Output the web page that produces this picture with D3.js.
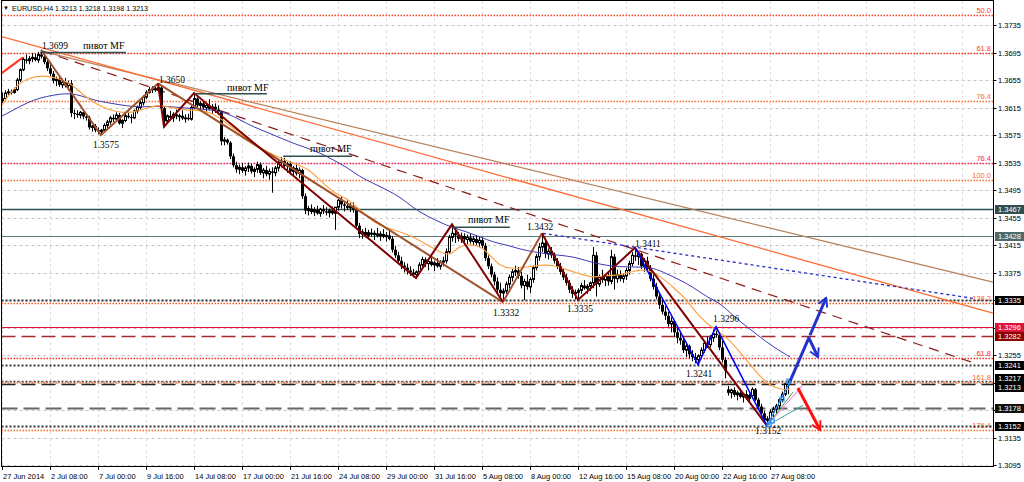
<!DOCTYPE html>
<html><head><meta charset="utf-8">
<script src="https://cdn.jsdelivr.net/npm/d3@7"></script>
<style>body{margin:0;background:#fff}svg{display:block}</style>
</head><body><svg id="c" width="1024" height="482"></svg>
<script>
// ---------------- DATA ----------------
const titleText = "EURUSD,H4  1.3213 1.3218 1.3198 1.3213";
const priceTicks = [1.3735,1.3695,1.3655,1.3615,1.3575,1.3535,1.3495,1.3455,1.3415,1.3375,1.3335,1.3295,1.3255,1.3215,1.3175,1.3135,1.3095];
const timeLabels = ["27 Jun 2014","2 Jul 08:00","7 Jul 00:00","9 Jul 16:00","14 Jul 08:00","17 Jul 00:00","21 Jul 16:00","24 Jul 08:00","29 Jul 00:00","31 Jul 16:00","5 Aug 08:00","8 Aug 00:00","12 Aug 16:00","15 Aug 08:00","20 Aug 00:00","22 Aug 16:00","27 Aug 08:00"];
const timeLabelBars = [0,16,32,48,64,80,96,112,128,144,160,176,192,208,224,240,256];
const gridBars = [0,16,32,48,64,80,96,112,128,144,160,176,192,208,224,240,256,272,288,304,320];
// H4 bars: [high, low, close] in pips above 1.3000
const firstOpen = 625;
const gapOpens = [[242,205]];
const bars = [
[637,622,628],[640,626,636],[642,633,638],[641,634,637],[644,635,641],[658,639,655],[672,652,670],[688,668,685],[692,679,683],[690,678,686],
[694,681,688],[693,682,684],[696,680,692],[699,686,689],[692,678,681],[686,668,672],[678,660,664],[668,650,654],[660,646,656],[659,645,648],
[657,643,652],[658,644,647],[654,640,650],[655,601,607],[612,598,606],[611,600,604],[610,599,608],[609,598,602],[606,596,600],[603,583,586],
[590,580,588],[591,579,582],[586,576,580],[584,575,582],[592,580,589],[597,585,594],[603,590,600],[605,594,598],[608,596,604],[607,590,592],
[598,585,596],[606,594,603],[609,599,601],[605,592,600],[612,598,610],[618,606,615],[625,612,622],[633,618,630],[640,627,637],[645,635,641],
[646,636,643],[647,638,640],[650,637,644],[646,610,614],[616,587,595],[605,592,603],[610,598,600],[608,594,605],[612,598,602],[606,595,603],
[611,597,599],[605,593,600],[606,596,598],[618,596,615],[636,612,628],[630,614,618],[624,610,621],[626,612,615],[622,608,618],[627,611,613],
[620,606,616],[621,607,612],[618,604,609],[610,560,566],[572,560,568],[570,561,564],[566,540,544],[548,528,531],[536,520,525],[532,518,528],
[534,520,523],[530,516,527],[535,521,530],[533,519,522],[528,514,525],[536,520,532],[535,517,520],[527,512,524],[530,515,518],[526,510,522],
[528,491,520],[530,515,527],[538,522,535],[543,528,537],[542,525,530],[536,520,533],[537,518,522],[530,514,527],[533,516,519],[528,512,524],
[526,482,486],[490,460,465],[472,458,468],[474,460,463],[470,457,466],[472,459,461],[469,456,467],[473,460,464],[470,458,462],[468,455,465],
[471,459,461],[468,437,470],[483,465,480],[485,468,474],[478,464,472],[480,466,469],[476,463,471],[477,462,466],[470,440,443],[447,425,431],
[438,424,434],[440,426,429],[437,423,433],[439,427,430],[436,422,432],[440,426,428],[435,421,431],[438,425,427],[434,420,429],[436,422,424],
[428,404,408],[414,396,400],[405,388,392],[398,380,385],[390,375,382],[388,372,378],[384,370,375],[380,368,372],[378,367,376],[390,374,386],
[398,382,394],[397,383,388],[394,378,391],[398,384,386],[392,377,389],[396,382,384],[393,379,390],[398,384,392],[410,388,405],[430,402,426],
[445,420,432],[438,418,429],[434,420,424],[433,418,428],[432,419,423],[430,416,426],[431,417,420],[428,414,424],[429,415,418],[427,412,422],
[426,410,414],[418,392,396],[400,380,384],[388,368,372],[376,356,362],[368,345,350],[360,338,345],[352,332,348],[362,344,358],[372,352,368],
[380,362,376],[385,370,378],[383,366,370],[376,352,356],[366,335,362],[372,350,354],[368,345,365],[385,360,382],[402,378,398],[418,392,412],
[432,405,418],[425,396,402],[410,394,406],[412,396,400],[404,388,392],[396,380,384],[389,372,376],[380,364,368],[373,356,360],[364,345,350],
[355,338,344],[350,336,346],[352,335,349],[360,344,356],[364,350,352],[358,344,355],[362,348,360],[412,352,400],[405,340,358],[372,354,368],
[379,360,364],[372,355,370],[376,356,362],[408,358,398],[402,350,366],[379,360,372],[378,362,366],[374,360,370],[382,364,378],[392,372,388],
[405,384,400],[411,392,398],[406,386,402],[404,380,384],[396,376,392],[398,378,380],[386,362,366],[372,350,354],[360,336,340],[346,322,328],
[336,314,318],[326,306,312],[318,296,300],[310,288,304],[306,282,288],[295,272,280],[290,270,276],[282,258,262],[272,252,268],[270,250,256],
[262,246,252],[258,243,248],[256,241,254],[266,250,262],[276,258,272],[282,265,270],[284,266,280],[292,274,286],[296,280,284],[288,262,266],
[276,244,248],[252,221,232],[210,196,200],[206,192,204],[208,194,197],[203,189,200],[206,192,194],[200,186,198],[204,190,192],[199,185,196],
[208,192,205],[207,188,190],[193,176,180],[184,166,170],[174,156,160],[166,152,162],[176,158,172],[180,165,176],[184,170,181],[192,176,190],
[202,186,198],[214,195,213],[218,198,213]
];
// moving averages: [bar index, pips]
const maFast = [[-0.7,614],[3.7,643],[8.3,658],[13.7,662],[18.3,658],[22.7,651],[27,633],[32.7,616],[38.3,608],[43.7,607],[49.3,616],[52.7,619],[57,614],[61.7,611],[66,611],[70.3,607],[75,592],[79.3,578],[83.7,563],[88.3,550],[92.7,542],[97,534],[101.7,527],[106,510],[110.3,491],[115,483],[119.3,466],[123.7,448],[128.3,440],[132.7,434],[137,427],[141.7,415],[146,405],[149.3,399],[152,412],[155,416],[159.3,414],[162.7,400],[166,384],[170.3,380],[175,383],[179.3,386],[183.7,386],[188.3,379],[192.7,373],[197,367],[201.7,371],[206,371],[210.3,377],[215,380],[219.3,370],[223.7,354],[228.3,335],[232.7,309],[237,294],[241.7,281],[246,259],[250.3,236],[254.3,216],[257.7,207],[261,204],[262.7,206]];
const maSlow = [[-0.7,601],[3.7,611],[8.3,622],[12.7,629],[17,633],[21.7,636],[26,633],[30.3,626],[35,622],[39.3,619],[43.7,616],[48.3,616],[52.7,617],[57,616],[61.7,614],[66,613],[70.3,611],[75,607],[79.3,597],[83.7,587],[88.3,579],[92.7,571],[97,563],[101.7,556],[106,549],[110.3,539],[115,528],[119.3,514],[123.7,505],[128.3,495],[132.7,485],[137,469],[141.7,457],[146,448],[150.3,440],[155,434],[159.3,427],[163.7,419],[168.3,415],[172.7,409],[177,405],[181.7,402],[186,400],[190.3,398],[195,392],[199.3,387],[203.7,384],[208.3,383],[212.7,383],[217,382],[221.7,373],[226,364],[230.3,354],[235,339],[239.3,331],[243.7,312],[248.3,296],[252.7,281],[257,267],[262.7,252]];
// zigzag swings [bar, pips]
const zigBrown = [[[13,699],[33,575],[52,650]],[[52,650],[167,332]],[[167,332],[180,432]]];
const zigMaroon = [[[52,650],[54,587],[64,636],[138,367],[150,445],[167,332]],[[180,432],[192,335],[211,411],[255,152]]];
const zigBlue = [[211,411],[232,241],[238,296],[255,152]];
// trend lines [bar1, pips1, bar2, pips2]
const trendOrange = [-0.7,719,330.3,316];
const trendBrown = [13,697,330.3,361];
const trendDashed = [13.5,697,324.3,243];
const trendBlueDot = [180.3,432,324.3,337];
const trendRedStart = [-0.7,663,7,688];
// "pivot MF" horizontal marks [bar1, bar2, pips]
const pivotLines = [[12.7,41.3,695],[64.3,88.3,635],[93.7,116.7,544],[150.3,169.3,441]];
const pivotLabels = [[27,700],[75,639],[102.7,550],[155.3,447]];
const pivotText = "пивот MF";
const swingLabels = [[13.3,700,"1.3699"],[30.3,556,"1.3575"],[52.3,651,"1.3650"],[175,437,"1.3432"],[163.7,312,"1.3332"],[188.3,318,"1.3335"],[211,412,"1.3411"],[237,303,"1.3296"],[228,223,"1.3241"],[251,140,"1.3152"]];
// horizontal levels
const levelPrices = [1.3467,1.3428,1.3335,1.3296,1.3282,1.3241,1.3217,1.3213,1.3178,1.3152];
const levelLabels = ["1.3467","1.3428","1.3335","1.3296","1.3282","1.3241","1.3217","1.3213","1.3178","1.3152"];
// fibonacci levels
const fibPrices = [1.3750,1.3694,1.3624,1.3534,1.3510,1.3331,1.3251,1.3216,1.3146];
const fibTexts = ["50.0","61.8","76.4","76.4","100.0","138.2","61.8","161.8","176.4"];
// final fan + arrows [bar, pips]
const fanGreen = [[255,152],[263.7,201]];
const fanPink = [[255,152],[266.7,210]];
const fanTeal = [[255,152],[267,182]];
const fanBlue = [[255,152],[262.7,216]];
const fanSquares = [[255.7,154],[256.7,159],[260,191],[262.3,217]];
const arrowBlueUp = [[262.7,217],[274.7,338]];
const arrowBlueSide = [[268.7,282],[272,252]];
const arrowRed = [[265.3,207],[272.7,146]];

// ---------------- DRAW ----------------
(function(){
const P = v => 1.3 + v/10000;
const svg = d3.select("#c");
const W = 1024, H = 482;
const pL = 1.5, pR = 993.5, pT = 0, pB = 466;
const x = d3.scaleLinear().domain([0, 330.33]).range([2, 993]);
const y = d3.scaleLinear().domain([1.3095, 1.3735]).range([465, 25]);

svg.append("rect").attr("width",W).attr("height",H).attr("fill","#fff");
const defs = svg.append("defs");
defs.append("clipPath").attr("id","plot").append("rect").attr("x",pL).attr("y",pT).attr("width",pR-pL).attr("height",pB-pT);
function marker(id,color){
  defs.append("marker").attr("id",id).attr("viewBox","0 0 10 10").attr("refX",8).attr("refY",5)
    .attr("markerWidth",4).attr("markerHeight",4).attr("orient","auto").attr("markerUnits","strokeWidth")
    .append("path").attr("d","M1,1 L8,5 L1,9").attr("fill","none").attr("stroke",color).attr("stroke-width",1.6);
}
marker("mBlue","#2233cc"); marker("mRed","#ff1010");

const g = svg.append("g").attr("clip-path","url(#plot)");
const crisp = v => Math.round(v)+0.5;

// grid
g.selectAll(".hg").data(priceTicks).join("line")
  .attr("x1",pL).attr("x2",pR).attr("y1",d=>crisp(y(d))).attr("y2",d=>crisp(y(d)))
  .attr("stroke","#c4c4c4").attr("stroke-dasharray","3,3");
g.selectAll(".vg").data(gridBars).join("line")
  .attr("x1",d=>crisp(x(d))).attr("x2",d=>crisp(x(d))).attr("y1",pT).attr("y2",pB)
  .attr("stroke","#dedede").attr("stroke-dasharray","3,3");

// fib levels
const fibColors = ["#ff4020","#ff3a20","#ff6a30","#ff2050","#ff6a30","#ff5a20","#ff2828","#ff6a20","#ff6a20"];
g.selectAll(".fib").data(fibPrices).join("line")
  .attr("x1",pL).attr("x2",pR).attr("y1",d=>crisp(y(d))).attr("y2",d=>crisp(y(d)))
  .attr("stroke",(d,i)=>fibColors[i]).attr("stroke-width",1.6).attr("stroke-dasharray","1.5,1.5");
g.selectAll(".fibt").data(fibPrices).join("text")
  .attr("x",991).attr("y",d=>y(d)-2).attr("text-anchor","end")
  .attr("font-family","Liberation Sans, Arial, sans-serif").attr("font-size",7.5)
  .attr("fill",(d,i)=>fibColors[i]).text((d,i)=>fibTexts[i]);

// horizontal levels
const levelStyles = [
  {c:"#2f4f4f",w:1.5,d:null,box:"#2f4f4f",dy:0},
  {c:"#5f7a7a",w:1.2,d:null,box:"#4f6a6a",dy:0},
  {c:"#333",w:2,d:"2,2",box:"#000",dy:0},
  {c:"#dc143c",w:1,d:null,box:"#dc143c",dy:0},
  {c:"#a52a2a",w:1.5,d:"14,6",box:"#8b0000",dy:0},
  {c:"#333",w:2,d:"2,2",box:"#000",dy:0},
  {c:"#444",w:1.5,d:"2,2",box:"#000",dy:-3},
  {c:"#222",w:1.5,d:"14,6",box:"#000",dy:3},
  {c:"#666",w:2,d:"16,6",box:"#111",dy:0},
  {c:"#333",w:2,d:"2,2",box:"#000",dy:0}
];
g.selectAll(".lvl").data(levelPrices).join("line")
  .attr("x1",pL).attr("x2",pR).attr("y1",d=>Math.round(y(d))+0.5).attr("y2",d=>Math.round(y(d))+0.5)
  .attr("stroke",(d,i)=>levelStyles[i].c).attr("stroke-width",(d,i)=>levelStyles[i].w)
  .attr("stroke-dasharray",(d,i)=>levelStyles[i].d);

// trend lines
function tline(t,color,w,dash){
  g.append("line").attr("x1",x(t[0])).attr("y1",y(P(t[1]))).attr("x2",x(t[2])).attr("y2",y(P(t[3])))
   .attr("stroke",color).attr("stroke-width",w).attr("stroke-dasharray",dash||null);
}
tline(trendBrown,"#b8825a",1.3);
tline(trendOrange,"#ff6a35",1.3);
tline(trendDashed,"#8b1a1a",1.2,"10,7");
tline(trendBlueDot,"#2a2acc",1.3,"3,3");
tline(trendRedStart,"#ff3a2a",2.2);

// candles
let prev = firstOpen;
const candles = bars.map((b,i)=>{
  const gp = gapOpens.find(d=>d[0]===i);
  const o = gp ? gp[1] : prev; prev = b[2];
  return {i:i,o:o,h:b[0],l:b[1],c:b[2]};
});
const cg = g.append("g");
candles.forEach(d=>{
  const X = Math.round(x(d.i));
  cg.append("line").attr("x1",X+0.5).attr("x2",X+0.5).attr("y1",y(P(d.h))).attr("y2",y(P(d.l)))
    .attr("stroke","#000").attr("stroke-width",1);
  const yo = y(P(d.o)), yc = y(P(d.c));
  const t = Math.min(yo,yc), hh = Math.max(1,Math.abs(yo-yc));
  if (d.c >= d.o) {
    cg.append("rect").attr("x",X-0.5).attr("y",t).attr("width",2).attr("height",hh)
      .attr("fill","#fff").attr("stroke","#000").attr("stroke-width",1);
  } else {
    cg.append("rect").attr("x",X-1).attr("y",t).attr("width",3).attr("height",hh).attr("fill","#000");
  }
});

// moving averages
const lineGen = d3.line().x(d=>x(d[0])).y(d=>y(P(d[1]))).curve(d3.curveBasis);
g.append("path").attr("d",lineGen(maSlow)).attr("fill","none").attr("stroke","#3a3ab8").attr("stroke-width",1);
g.append("path").attr("d",lineGen(maFast)).attr("fill","none").attr("stroke","#ffa040").attr("stroke-width",1.2);

// zigzags
const zl = d3.line().x(d=>x(d[0])).y(d=>y(P(d[1])));
zigBrown.forEach(s=>g.append("path").attr("d",zl(s)).attr("fill","none").attr("stroke","#a0522d").attr("stroke-width",2));
zigMaroon.forEach(s=>g.append("path").attr("d",zl(s)).attr("fill","none").attr("stroke","#800000").attr("stroke-width",2));
g.append("path").attr("d",zl(zigBlue)).attr("fill","none").attr("stroke","#0000ff").attr("stroke-width",1.5);

// pivot lines
g.selectAll(".pv").data(pivotLines).join("line")
  .attr("x1",d=>x(d[0])).attr("x2",d=>x(d[1])).attr("y1",d=>y(P(d[2]))).attr("y2",d=>y(P(d[2])))
  .attr("stroke","#2f4f4f").attr("stroke-width",1.5);

// fan
g.append("path").attr("d",zl(fanTeal)).attr("stroke","#40a0a0").attr("fill","none");
g.append("path").attr("d",zl(fanPink)).attr("stroke","#ff66dd").attr("fill","none");
g.append("path").attr("d",zl(fanGreen)).attr("stroke","#3aa03a").attr("fill","none");
g.append("path").attr("d",zl(fanBlue)).attr("stroke","#2b8cff").attr("fill","none").attr("stroke-width",1.3);
g.selectAll(".sq").data(fanSquares).join("rect")
  .attr("x",d=>x(d[0])-2).attr("y",d=>y(P(d[1]))-2).attr("width",4).attr("height",4)
  .attr("fill","none").attr("stroke","#2b8cff").attr("stroke-width",1.2);

// arrows
g.append("path").attr("d",zl(arrowBlueUp)).attr("stroke","#2233cc").attr("stroke-width",3).attr("fill","none")
  .attr("stroke-dasharray","46,4,200").attr("marker-end","url(#mBlue)");
g.append("path").attr("d",zl(arrowBlueSide)).attr("stroke","#2233cc").attr("stroke-width",3).attr("fill","none")
  .attr("marker-end","url(#mBlue)");
g.append("path").attr("d",zl(arrowRed)).attr("stroke","#ff1010").attr("stroke-width",3).attr("fill","none")
  .attr("marker-end","url(#mRed)");

// text labels
const serif = "Liberation Serif, Times New Roman, serif";
g.selectAll(".pl").data(pivotLabels).join("text")
  .attr("x",d=>x(d[0])).attr("y",d=>y(P(d[1]))).attr("font-family",serif).attr("font-size",10)
  .attr("fill","#000").text(pivotText);
g.selectAll(".sl").data(swingLabels).join("text")
  .attr("x",d=>x(d[0])).attr("y",d=>y(P(d[1]))).attr("font-family",serif).attr("font-size",9.5)
  .attr("fill","#000").text(d=>d[2]);

// border
svg.append("rect").attr("x",pL).attr("y",pT+0.5).attr("width",pR-pL).attr("height",pB-pT)
  .attr("fill","none").attr("stroke","#000").attr("stroke-width",1);

// axes
const sans = "Liberation Sans, Arial, sans-serif";
const ax = svg.append("g");
ax.selectAll(".pt").data(priceTicks).join("line")
  .attr("x1",pR).attr("x2",pR+3).attr("y1",d=>crisp(y(d))).attr("y2",d=>crisp(y(d))).attr("stroke","#000");
// tick labels that sit under a level box are hidden (as in the terminal)
const visibleTicks = priceTicks.filter(t=>!levelPrices.some(l=>Math.abs(y(l)-y(t))<8));
ax.selectAll(".ptl").data(visibleTicks).join("text")
  .attr("x",998).attr("y",d=>y(d)+3).attr("font-family",sans).attr("font-size",7.5).attr("fill","#000")
  .text(d=>d.toFixed(4));
ax.selectAll(".tt").data(timeLabelBars).join("line")
  .attr("x1",d=>crisp(x(d))).attr("x2",d=>crisp(x(d))).attr("y1",pB).attr("y2",pB+4).attr("stroke","#000");
ax.selectAll(".ttl").data(timeLabelBars).join("text")
  .attr("x",d=>x(d)+1).attr("y",479).attr("font-family",sans).attr("font-size",7.5).attr("fill","#000")
  .text((d,i)=>timeLabels[i]);

// level boxes on price axis
ax.selectAll(".bx").data(levelPrices).join("rect")
  .attr("x",995).attr("y",(d,i)=>Math.round(y(d))-4+levelStyles[i].dy).attr("width",29).attr("height",9)
  .attr("fill",(d,i)=>levelStyles[i].box);
ax.selectAll(".bxt").data(levelPrices).join("text")
  .attr("x",998).attr("y",(d,i)=>Math.round(y(d))+3+levelStyles[i].dy).attr("font-family",sans).attr("font-size",7.5).attr("fill","#fff")
  .text((d,i)=>levelLabels[i]);

// title
svg.append("text").attr("x",3).attr("y",10).attr("font-family",sans).attr("font-size",6).attr("fill","#000").text("▼");
svg.append("text").attr("x",12).attr("y",11).attr("font-family",sans).attr("font-size",7.5).attr("fill","#000")
  .attr("textLength",136).attr("lengthAdjust","spacingAndGlyphs").text(titleText);
})();
</script></body></html>
